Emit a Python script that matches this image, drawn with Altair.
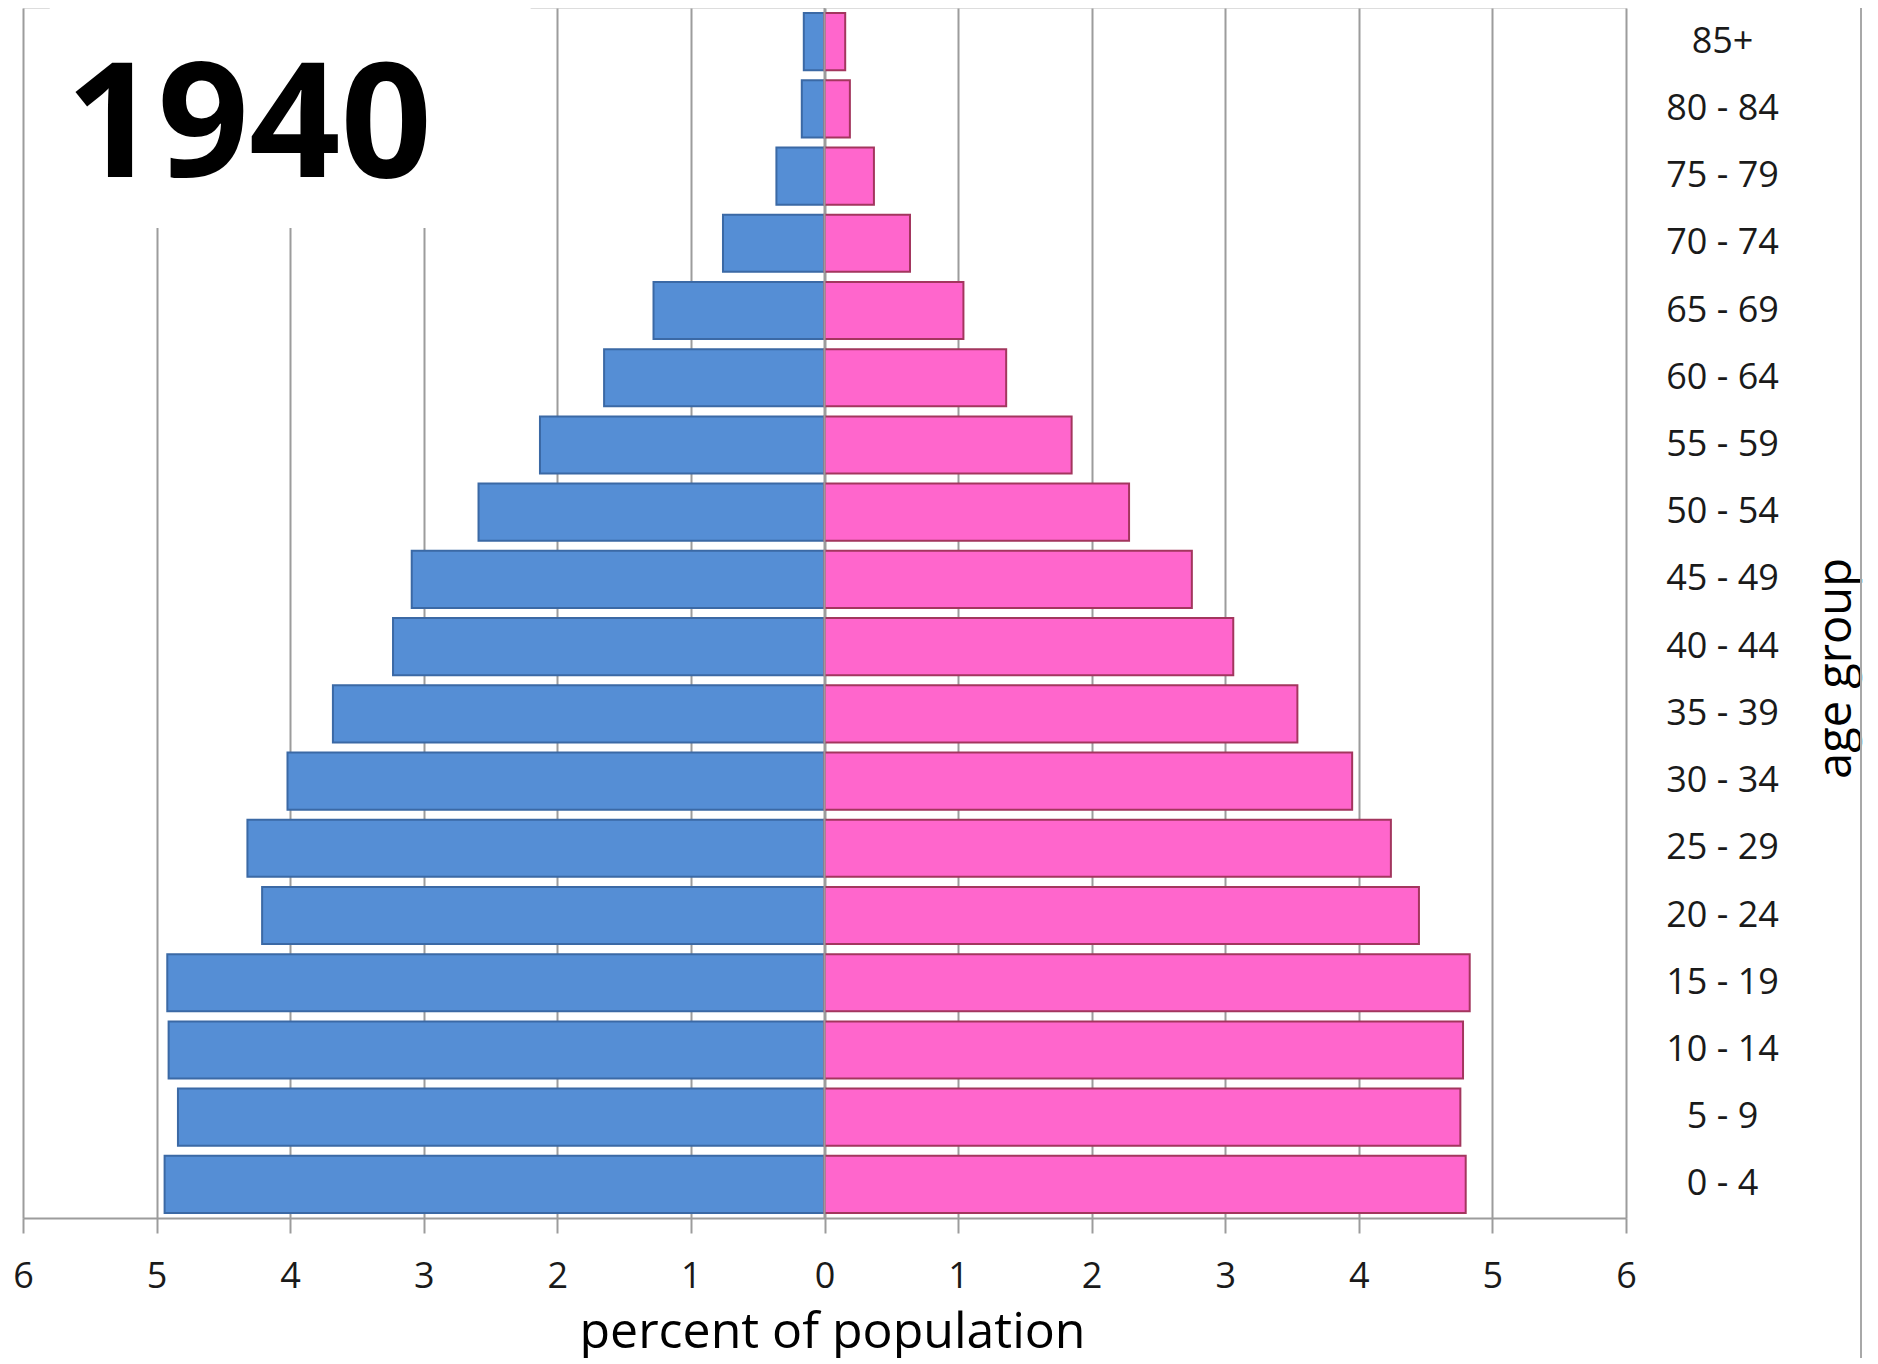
import altair as alt
import pandas as pd

# ---- data ----
age_groups = ["0 - 4", "5 - 9", "10 - 14", "15 - 19", "20 - 24", "25 - 29",
              "30 - 34", "35 - 39", "40 - 44", "45 - 49", "50 - 54", "55 - 59",
              "60 - 64", "65 - 69", "70 - 74", "75 - 79", "80 - 84", "85+"]
male_pct = [4.94, 4.84, 4.91, 4.92, 4.21, 4.32, 4.02, 3.68, 3.23, 3.09,
            2.59, 2.13, 1.65, 1.28, 0.76, 0.36, 0.17, 0.155]
female_pct = [4.80, 4.76, 4.78, 4.83, 4.45, 4.24, 3.95, 3.54, 3.06, 2.75,
              2.28, 1.85, 1.36, 1.04, 0.64, 0.37, 0.19, 0.155]
sexes = ["male", "female"]
fill_colors = ["#558ED5", "#FF66CC"]
stroke_colors = ["#3B69A5", "#A3365E"]
tick_values = list(range(-6, 7))
year_label = ["1940"]
x_title = "percent of population"
y_title = "age group"

rows = []
for a, m, f in zip(age_groups, male_pct, female_pct):
    rows.append({"age": a, "sex": "male", "value": -m})
    rows.append({"age": a, "sex": "female", "value": f})
df = pd.DataFrame(rows)

W, H = 1603, 1210
GRID = "#9C9C9C"
FONT = "Open Sans"

x_scale = alt.Scale(domain=[-6, 6], nice=False, zero=False)
y_order = list(reversed(age_groups))

bars = alt.Chart(df).mark_bar(strokeWidth=2).encode(
    x=alt.X("value:Q", scale=x_scale,
            axis=alt.Axis(values=tick_values,
                          labelExpr="format(abs(datum.value), 'd')",
                          grid=True, gridColor=GRID, gridWidth=2,
                          domainColor=GRID, domainWidth=2,
                          tickColor=GRID, tickWidth=2, tickSize=15,
                          labelFont=FONT, labelFontSize=36, labelColor="#1a1a1a",
                          labelPadding=26, labelFlush=False,
                          title=x_title, titleFont=FONT, titleFontSize=50,
                          titleFontWeight="normal", titleColor="#000000",
                          titleX=809, titleY=129, titleAlign="center",
                          titleBaseline="alphabetic")),
    y=alt.Y("age:N", sort=y_order,
            scale=alt.Scale(paddingInner=0.15, paddingOuter=0.075),
            axis=alt.Axis(orient="right", domain=False, ticks=False, tickSize=0,
                          grid=False, labelAlign="center", labelBaseline="middle",
                          labelPadding=96, labelFont=FONT, labelFontSize=36,
                          labelColor="#1a1a1a",
                          title=y_title, titleFont=FONT, titleFontSize=47,
                          titleFontWeight="normal", titleColor="#000000",
                          titleAngle=270, titleX=210, titleY=660,
                          titleAlign="center", titleBaseline="middle")),
    color=alt.Color("sex:N", scale=alt.Scale(domain=sexes, range=fill_colors),
                    legend=None),
    stroke=alt.Stroke("sex:N", scale=alt.Scale(domain=sexes, range=stroke_colors),
                      legend=None),
)

zero_line = alt.Chart(pd.DataFrame({"v": [0]})).mark_rule(
    color=GRID, strokeWidth=2).encode(
    x=alt.X("v:Q", scale=x_scale),
    y=alt.value(0), y2=alt.value(H))

# white backdrop behind the year label (hides grid lines there)
backdrop = alt.Chart(pd.DataFrame({"a": [-5.8], "b": [-2.2]})).mark_rect(
    color="white").encode(
    x=alt.X("a:Q", scale=x_scale), x2="b:Q",
    y=alt.value(0), y2=alt.value(220))

year = alt.Chart(pd.DataFrame({"t": year_label})).mark_text(
    font=FONT, fontWeight="bold", fontSize=160, color="#000000",
    align="center", baseline="alphabetic").encode(
    text="t:N", x=alt.value(226), y=alt.value(169))

border = alt.Chart(pd.DataFrame({"v": [0]})).mark_rule(
    color="#A8A8A8", strokeWidth=2).encode(
    x=alt.value(1838), y=alt.value(-8), y2=alt.value(1400))

chart = alt.layer(bars, zero_line, backdrop, year, border).properties(
    width=W, height=H,
    autosize=alt.AutoSizeParams(type="none"),
    padding={"left": 15, "top": 0, "right": 238, "bottom": 140},
).configure_view(stroke=None).configure(background="white")

chart.save("out.html", embed_options={"renderer": "svg", "actions": False})
